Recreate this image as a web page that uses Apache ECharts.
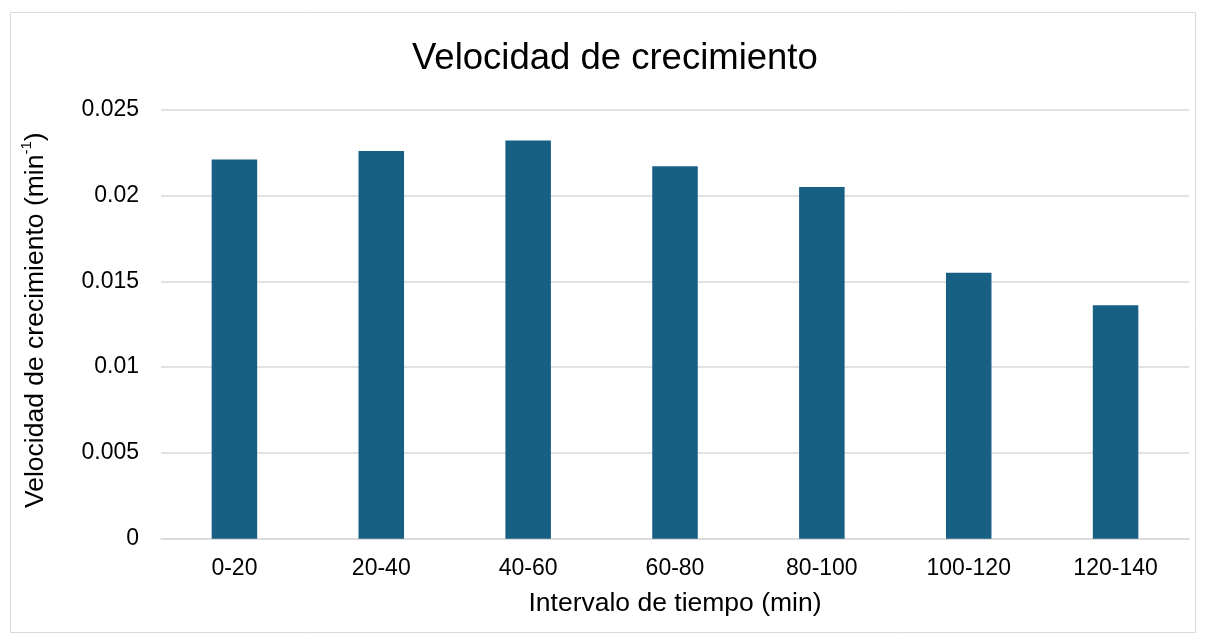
<!DOCTYPE html>
<html>
<head>
<meta charset="utf-8">
<script src="https://cdn.jsdelivr.net/npm/echarts@6/dist/echarts.min.js"></script>
<style>
  html, body { margin: 0; padding: 0; background: #fff; }
  #chart { width: 1206px; height: 643px; }
</style>
</head>
<body>
<div id="chart"></div>
<script>
// Growth rate per time interval
const intervals = ['0-20', '20-40', '40-60', '60-80', '80-100', '100-120', '120-140'];
const growthRate = [0.0221, 0.0226, 0.0232, 0.0217, 0.0205, 0.0155, 0.0136];
const yTicks = [0, 0.005, 0.01, 0.015, 0.02, 0.025];

const FONT = '"Liberation Sans", Arial, sans-serif';
const chart = echarts.init(document.getElementById('chart'));

chart.setOption({
  backgroundColor: '#fff',
  animation: false,
  graphic: [{
    type: 'rect',
    shape: { x: 10.5, y: 12.5, width: 1185, height: 620 },
    style: { fill: 'none', stroke: '#d9d9d9', lineWidth: 1 }
  }],
  title: {
    text: 'Velocidad de crecimiento',
    left: 407,
    top: 35,
    textStyle: { fontFamily: FONT, fontSize: 36.5, fontWeight: 'normal', color: '#000' }
  },
  grid: { left: 161, right: 17, top: 109.7, bottom: 104.3, containLabel: false },
  xAxis: {
    type: 'category',
    data: intervals,
    name: 'Intervalo de tiempo (min)',
    nameLocation: 'middle',
    nameGap: 51,
    nameTextStyle: { fontFamily: FONT, fontSize: 26.5, color: '#000' },
    axisLine: { lineStyle: { color: '#d9d9d9', width: 1.5 } },
    axisTick: { show: false },
    axisLabel: { fontFamily: FONT, fontSize: 23, color: '#000', margin: 18 }
  },
  yAxis: {
    type: 'value',
    min: yTicks[0],
    max: yTicks[yTicks.length - 1],
    interval: yTicks[1] - yTicks[0],
    name: '{n|Velocidad de crecimiento (min}{s|-1}{n|)}',
    nameLocation: 'middle',
    nameGap: 112,
    nameRotate: 90,
    nameTextStyle: {
      fontFamily: FONT, fontSize: 26.5, color: '#000',
      padding: [0, 0, 0, 8],
      rich: {
        n: { fontFamily: FONT, fontSize: 26.5, color: '#000', lineHeight: 30, verticalAlign: 'bottom' },
        s: { fontFamily: FONT, fontSize: 15, color: '#000', lineHeight: 30, verticalAlign: 'top', padding: [0, 0, 12, 0] }
      }
    },
    axisLine: { show: false },
    axisTick: { show: false },
    splitLine: { lineStyle: { color: '#d9d9d9', width: 1.5 } },
    axisLabel: {
      fontFamily: FONT, fontSize: 23, color: '#000', margin: 22,
      formatter: v => String(Number(v.toFixed(3)))
    }
  },
  series: [{
    type: 'bar',
    data: growthRate,
    barWidth: '31%',
    itemStyle: { color: '#175F83' }
  }]
});
</script>
</body>
</html>
